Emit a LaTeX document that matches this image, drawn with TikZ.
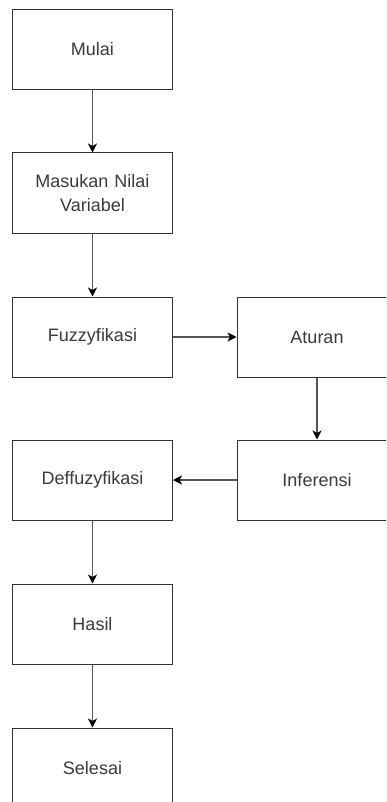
\documentclass[tikz,border=0pt]{standalone}
\usepackage{fontspec}
\setmainfont{Liberation Sans}
\usetikzlibrary{arrows.meta}
\definecolor{edge}{HTML}{333333}
\definecolor{txt}{HTML}{3A3A3A}
\definecolor{link}{HTML}{555555}
\begin{document}
\begin{tikzpicture}[x=1pt,y=-1pt,
  box/.style={draw=edge,line width=1pt,fill=white,minimum width=160pt,minimum height=80pt,
    text width=155pt,align=center,font=\fontsize{18}{24}\selectfont,text=txt,inner sep=0pt},
  link/.style={draw=link,line width=1.2pt,-{Stealth[length=9pt,width=9pt,inset=2.5pt,color=black]}}]
\useasboundingbox (0,0) rectangle (386,802);
\clip (0,0) rectangle (386,802);
\fill[white] (0,0) rectangle (386,802);
\node[box] (mulai) at (92.5,49.5) {Mulai};
\node[box] (masuk) at (92.5,193) {Masukan Nilai\\Variabel};
\node[box] (fuzzy) at (92.5,337) {Fuzzyfikasi};
\node[box] (aturan) at (317,337) {Aturan};
\node[box] (infer) at (317,480) {Inferensi};
\node[box] (deff) at (92.5,480) {Deffuzyfikasi};
\node[box] (hasil) at (92.5,624) {Hasil};
\node[box] (selesai) at (92.5,768) {Selesai};
\draw[link] (mulai) -- (masuk);
\draw[link] (masuk) -- (fuzzy);
\draw[link] (fuzzy) -- (aturan);
\draw[link] (aturan) -- (infer);
\draw[link] (infer) -- (deff);
\draw[link] (deff) -- (hasil);
\draw[link] (hasil) -- (selesai);
\end{tikzpicture}
\end{document}
